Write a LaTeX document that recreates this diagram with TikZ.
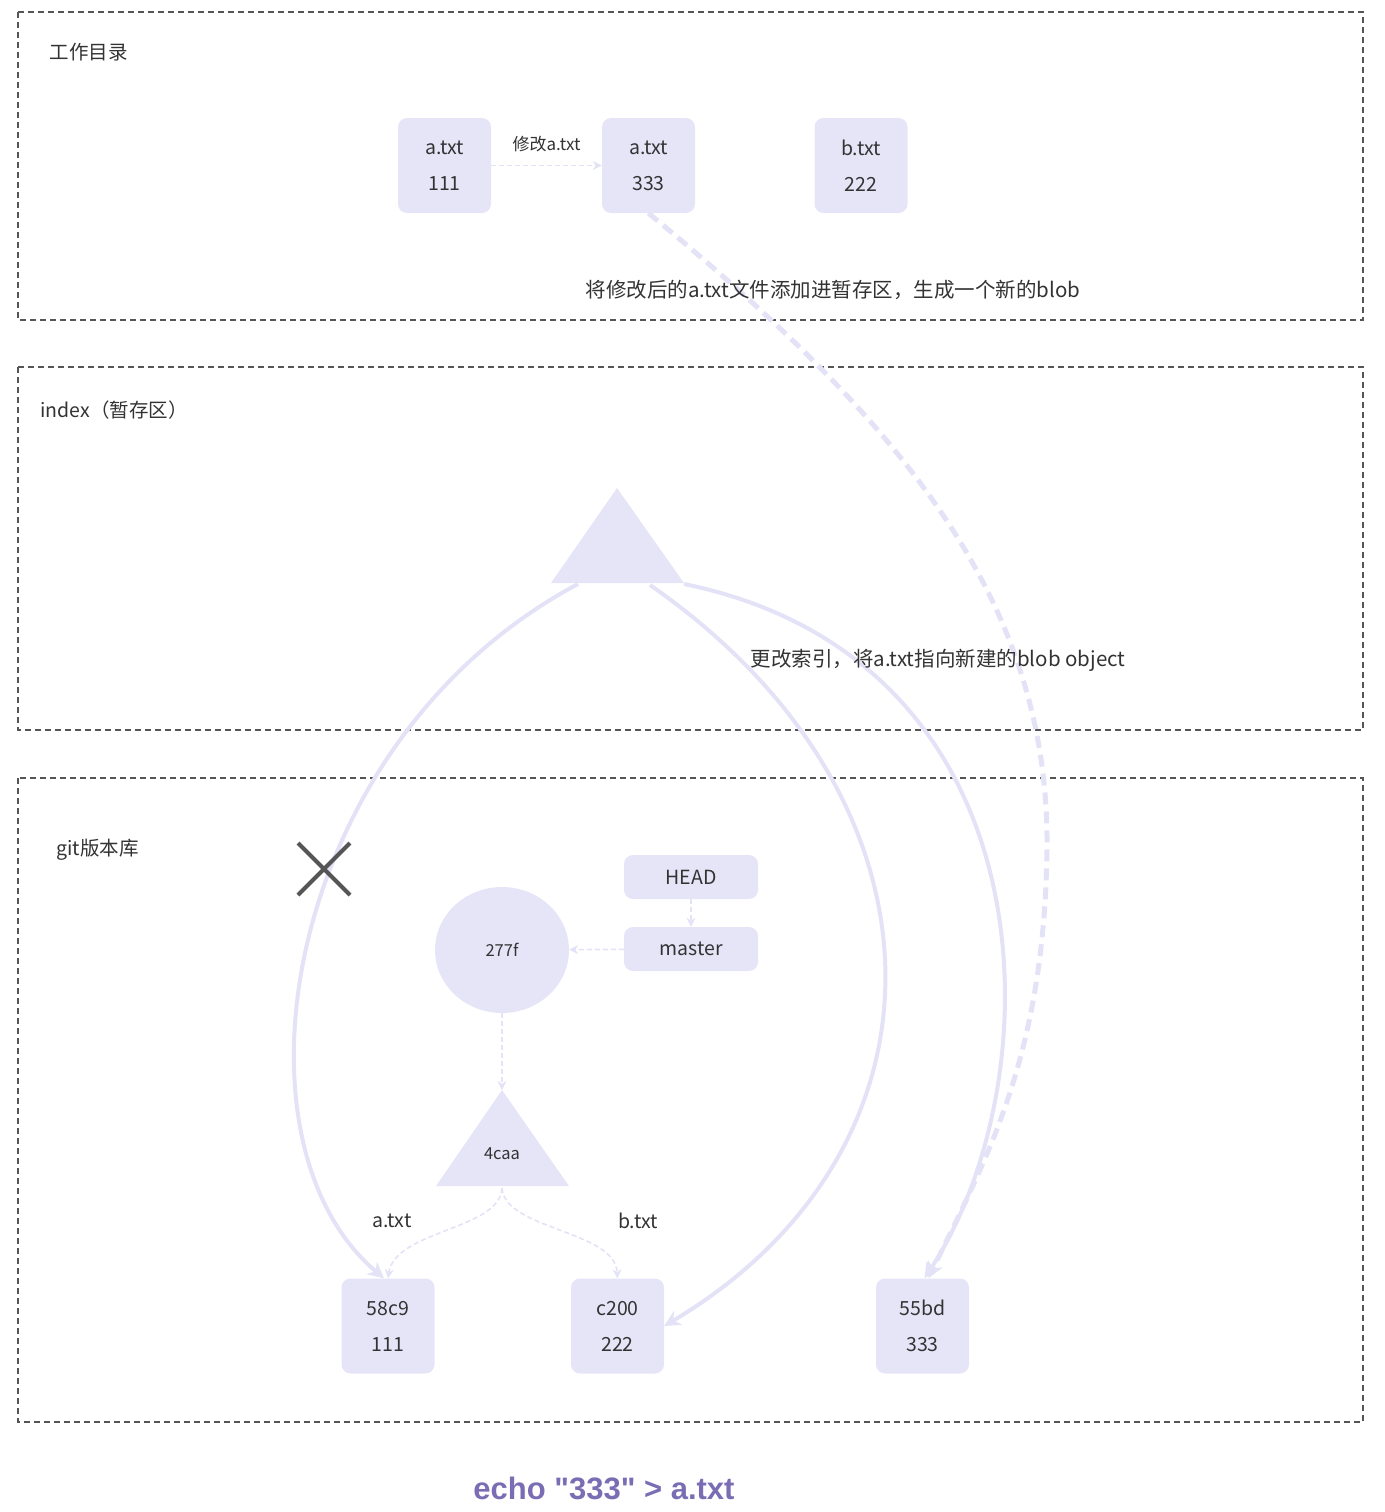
\documentclass[tikz,border=0pt]{standalone}
\usepackage{fontspec}
\setmainfont{Noto Sans CJK SC}
\newfontfamily\capfont{Liberation Sans}
\usetikzlibrary{arrows.meta,shapes.geometric}
\definecolor{lav}{HTML}{E6E5F8}
\definecolor{lline}{HTML}{E3E2F6}
\definecolor{txt}{HTML}{333333}
\definecolor{frame}{HTML}{555555}
\definecolor{capc}{HTML}{7A6DB3}
\tikzset{
  area/.style={draw=frame, line width=2pt, dash pattern=on 6pt off 4pt},
  filebox/.style={rounded corners=9pt, fill=lav, minimum width=93pt, minimum height=95pt, align=center, text=txt, font=\fontsize{19.5}{36}\selectfont},
  refbox/.style={rounded corners=9pt, fill=lav, minimum width=134pt, minimum height=44pt, text=txt, font=\fontsize{19.5}{22}\selectfont},
  lbl/.style={text=txt, font=\fontsize{19.5}{22}\selectfont},
  biglbl/.style={text=txt, font=\fontsize{20.5}{22}\selectfont},
  smalllbl/.style={text=txt, font=\fontsize{17}{18}\selectfont},
  thindash/.style={draw=lline, line width=1.6pt, dash pattern=on 5pt off 3pt, -{Stealth[length=9pt,width=9pt]}},
  thick/.style={draw=lline, line width=4pt, -{Stealth[length=16pt,width=16pt]}},
  thickdash/.style={draw=lline, line width=5pt, dash pattern=on 12pt off 7pt, -{Stealth[length=16pt,width=16pt]}},
}
\begin{document}
\begin{tikzpicture}[x=1pt,y=-1pt]
\useasboundingbox (0,0) rectangle (1384,1512);
% frames
\draw[area] (18,12) rectangle (1363,320);
\draw[area] (18,367) rectangle (1363,730);
\draw[area] (18,778) rectangle (1363,1422);
\node[lbl, anchor=west] (t1) at (46,52) {工作目录};
\node[lbl, anchor=west] (t2) at (37,410) {index（暂存区）};
\node[lbl, anchor=west] (t3) at (53,850) {git版本库};
% working dir
\node[filebox] (wa1) at (444.5,165.5) {a.txt\\111};
\node[filebox] (wa3) at (648.5,165.5) {a.txt\\333};
\node[filebox] (wb) at (861,165.5) {b.txt\\222};
% index tree
\coordinate (ia) at (617,488);
\coordinate (il) at (551,583);
\coordinate (ir) at (684,583);
\fill[lav] (ia) -- (il) -- (ir) -- cycle;
\coordinate (iL) at (578,584);
\coordinate (iM) at (650,585);
\coordinate (iR) at (684,584);
% git repo
\node[refbox] (head) at (691,877) {HEAD};
\node[refbox] (master) at (691,949) {master};
\node[ellipse, fill=lav, minimum width=134pt, minimum height=126pt, text=txt, font=\fontsize{16.5}{18}\selectfont] (c277) at (502,950) {277f};
\coordinate (ta) at (502,1090);
\coordinate (tl) at (436,1186);
\coordinate (tr) at (569,1186);
\fill[lav] (ta) -- (tl) -- (tr) -- cycle;
\node[text=txt, font=\fontsize{16.5}{18}\selectfont] (t4caa) at (502,1154) {4caa};
\coordinate (tb) at (502,1188);
\node[filebox] (b58) at (388,1326) {58c9\\111};
\node[filebox] (bc2) at (617.5,1326) {c200\\222};
\node[filebox] (b55) at (922.5,1326) {55bd\\333};
% connectors
\draw[thindash] (wa1) -- (wa3) node[midway, above=9pt, smalllbl] {修改a.txt};
\draw[thindash] (head) -- (master);
\draw[thindash] (master) -- (c277);
\draw[thindash] (c277) -- (ta);
\draw[thindash] (tb) .. controls (500,1230) and (395,1230) .. (b58.north);
\draw[thindash] (tb) .. controls (505,1230) and (615,1230) .. (bc2.north);
\node[lbl] (la) at (392,1221) {a.txt};
\node[lbl] (lb) at (638,1221) {b.txt};
% big arrows
\draw[thick] (iL) .. controls (285,740) and (220,1140) .. ([xshift=-4pt]b58.north);
\draw[thick] (iM) .. controls (960,800) and (960,1150) .. (bc2.east);
\draw[thick] (iR) .. controls (1055,660) and (1055,1080) .. ([xshift=2pt]b55.north);
\draw[thickdash] (wa3.south) .. controls (900,420) and (1050,600) .. (1047,850) .. controls (1044,1060) and (985,1160) .. ([xshift=6pt]b55.north);
% X mark
\draw[frame, line width=4pt] (298,843) -- (350,895) (350,843) -- (298,895);
% labels
\node[biglbl] (l1) at (833,290) {将修改后的a.txt文件添加进暂存区，生成一个新的blob};
\node[biglbl] (l2) at (938,660) {更改索引，将a.txt指向新建的blob object};
\node[text=capc, font=\capfont\bfseries\fontsize{31}{34}\selectfont] (cap) at (604,1488) {echo "333" > a.txt};
\end{tikzpicture}
\end{document}
